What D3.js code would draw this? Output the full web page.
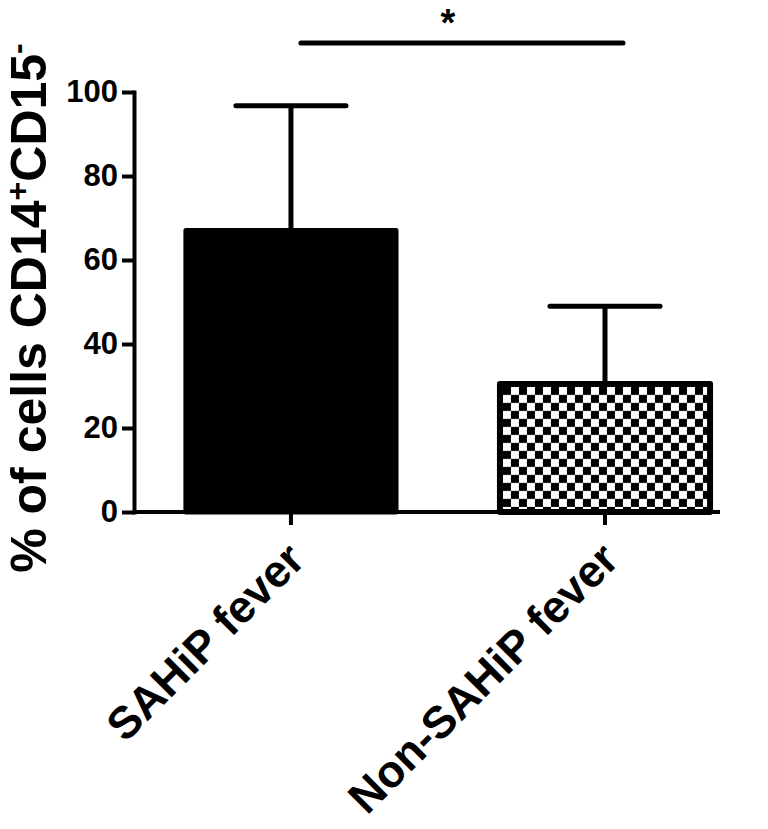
<!DOCTYPE html>
<html>
<head>
<meta charset="utf-8">
<script src="https://cdn.jsdelivr.net/npm/d3@7"></script>
<style>
  html, body { margin: 0; padding: 0; background: #fff; }
  svg { display: block; }
  text { font-family: "Liberation Sans", Arial, sans-serif; font-weight: bold; fill: #000; }
</style>
</head>
<body>
<svg id="chart" width="768" height="829"></svg>
<script>
// ---- data ----
const categories = ["SAHiP fever", "Non-SAHiP fever"];
const means = [67.0, 30.5];
const errors = [29.7, 18.5];
const yTicks = [0, 20, 40, 60, 80, 100];
const significanceLabel = "*";

// ---- layout ----
const svg = d3.select("#chart");
const x0 = 134, x1 = 720, yTop = 92, yBottom = 512;

const x = d3.scaleBand()
  .domain(categories)
  .range([x0, x1])
  .paddingInner(0.331)
  .paddingOuter(0.0985)
  .align(0.839);

const y = d3.scaleLinear().domain([0, 100]).range([yBottom, yTop]);

// checker pattern
const defs = svg.append("defs");
const sq = 8;
const pat = defs.append("pattern")
  .attr("id", "checker")
  .attr("patternUnits", "userSpaceOnUse")
  .attr("width", sq * 2).attr("height", sq * 2)
  .attr("x", x(categories[1]) + 3).attr("y", y(means[1]) + 3);
pat.append("rect").attr("width", sq * 2).attr("height", sq * 2).attr("fill", "#fff");
pat.append("rect").attr("width", sq).attr("height", sq).attr("fill", "#000");
pat.append("rect").attr("x", sq).attr("y", sq).attr("width", sq).attr("height", sq).attr("fill", "#000");

const data = categories.map((c, i) => ({ c, m: means[i], e: errors[i], i }));

// error bars
const eb = svg.append("g");
data.forEach(d => {
  const cx = x(d.c) + x.bandwidth() / 2;
  const half = x.bandwidth() * 0.262;
  eb.append("line")
    .attr("x1", cx).attr("x2", cx)
    .attr("y1", y(d.m)).attr("y2", y(d.m + d.e))
    .attr("stroke", "#000").attr("stroke-width", 5);
  eb.append("line")
    .attr("x1", cx - half).attr("x2", cx + half)
    .attr("y1", y(d.m + d.e)).attr("y2", y(d.m + d.e))
    .attr("stroke", "#000").attr("stroke-width", 5).attr("stroke-linecap", "round");
});

// bars
svg.append("g").selectAll("rect").data(data).join("rect")
  .attr("x", d => x(d.c))
  .attr("y", d => y(d.m))
  .attr("width", x.bandwidth())
  .attr("height", d => y(0) - y(d.m))
  .attr("fill", d => d.i === 0 ? "#000" : "url(#checker)")
  .attr("stroke", "#000")
  .attr("stroke-width", d => d.i === 0 ? 5 : 6)
  .attr("stroke-linejoin", "round");

// y axis
const yAxis = svg.append("g")
  .attr("transform", `translate(${x0},0)`)
  .call(d3.axisLeft(y).tickValues(yTicks).tickSize(12).tickSizeOuter(0).tickPadding(4));
yAxis.select(".domain").attr("stroke-width", 4).attr("stroke-linecap", "square");
yAxis.selectAll(".tick line").attr("stroke-width", 4);
yAxis.selectAll(".tick text")
  .style("font-size", "31px")
  .style("font-family", "'Liberation Sans', Arial, sans-serif")
  .style("font-weight", "bold")
  .attr("fill", "#000");

// x axis
const xAxis = svg.append("g")
  .attr("transform", `translate(0,${yBottom})`)
  .call(d3.axisBottom(x).tickSize(13).tickSizeOuter(0).tickFormat(""));
xAxis.select(".domain").attr("stroke-width", 4).attr("d", `M${x0},0H${x1}`);
xAxis.selectAll(".tick line").attr("stroke-width", 4);

// x labels, rotated
svg.append("g").selectAll("text").data(categories).join("text")
  .attr("text-anchor", "end")
  .attr("transform", c => `translate(${x(c) + x.bandwidth() / 2 + 16},${yBottom + 50}) rotate(-45)`)
  .style("font-size", "45px")
  .text(c => c);

// y title
const title = svg.append("text")
  .attr("text-anchor", "middle")
  .attr("transform", `translate(46,${(568 + 48) / 2}) rotate(-90)`)
  .style("font-size", "50px");
title.append("tspan").text("% of cells CD14");
title.append("tspan").attr("dy", -18).style("font-size", "32px").text("+");
title.append("tspan").attr("dy", 18).text("CD15");
title.append("tspan").attr("dy", -18).style("font-size", "32px").text("-");

// significance
const c1 = x(categories[0]) + x.bandwidth() / 2;
const c2 = x(categories[1]) + x.bandwidth() / 2;
svg.append("line")
  .attr("x1", c1 + 10).attr("x2", c2 + 18)
  .attr("y1", 43).attr("y2", 43)
  .attr("stroke", "#000").attr("stroke-width", 5).attr("stroke-linecap", "round");
svg.append("text")
  .attr("x", (c1 + c2) / 2).attr("y", 36)
  .attr("text-anchor", "middle")
  .style("font-size", "38px")
  .text(significanceLabel);
</script>
</body>
</html>
